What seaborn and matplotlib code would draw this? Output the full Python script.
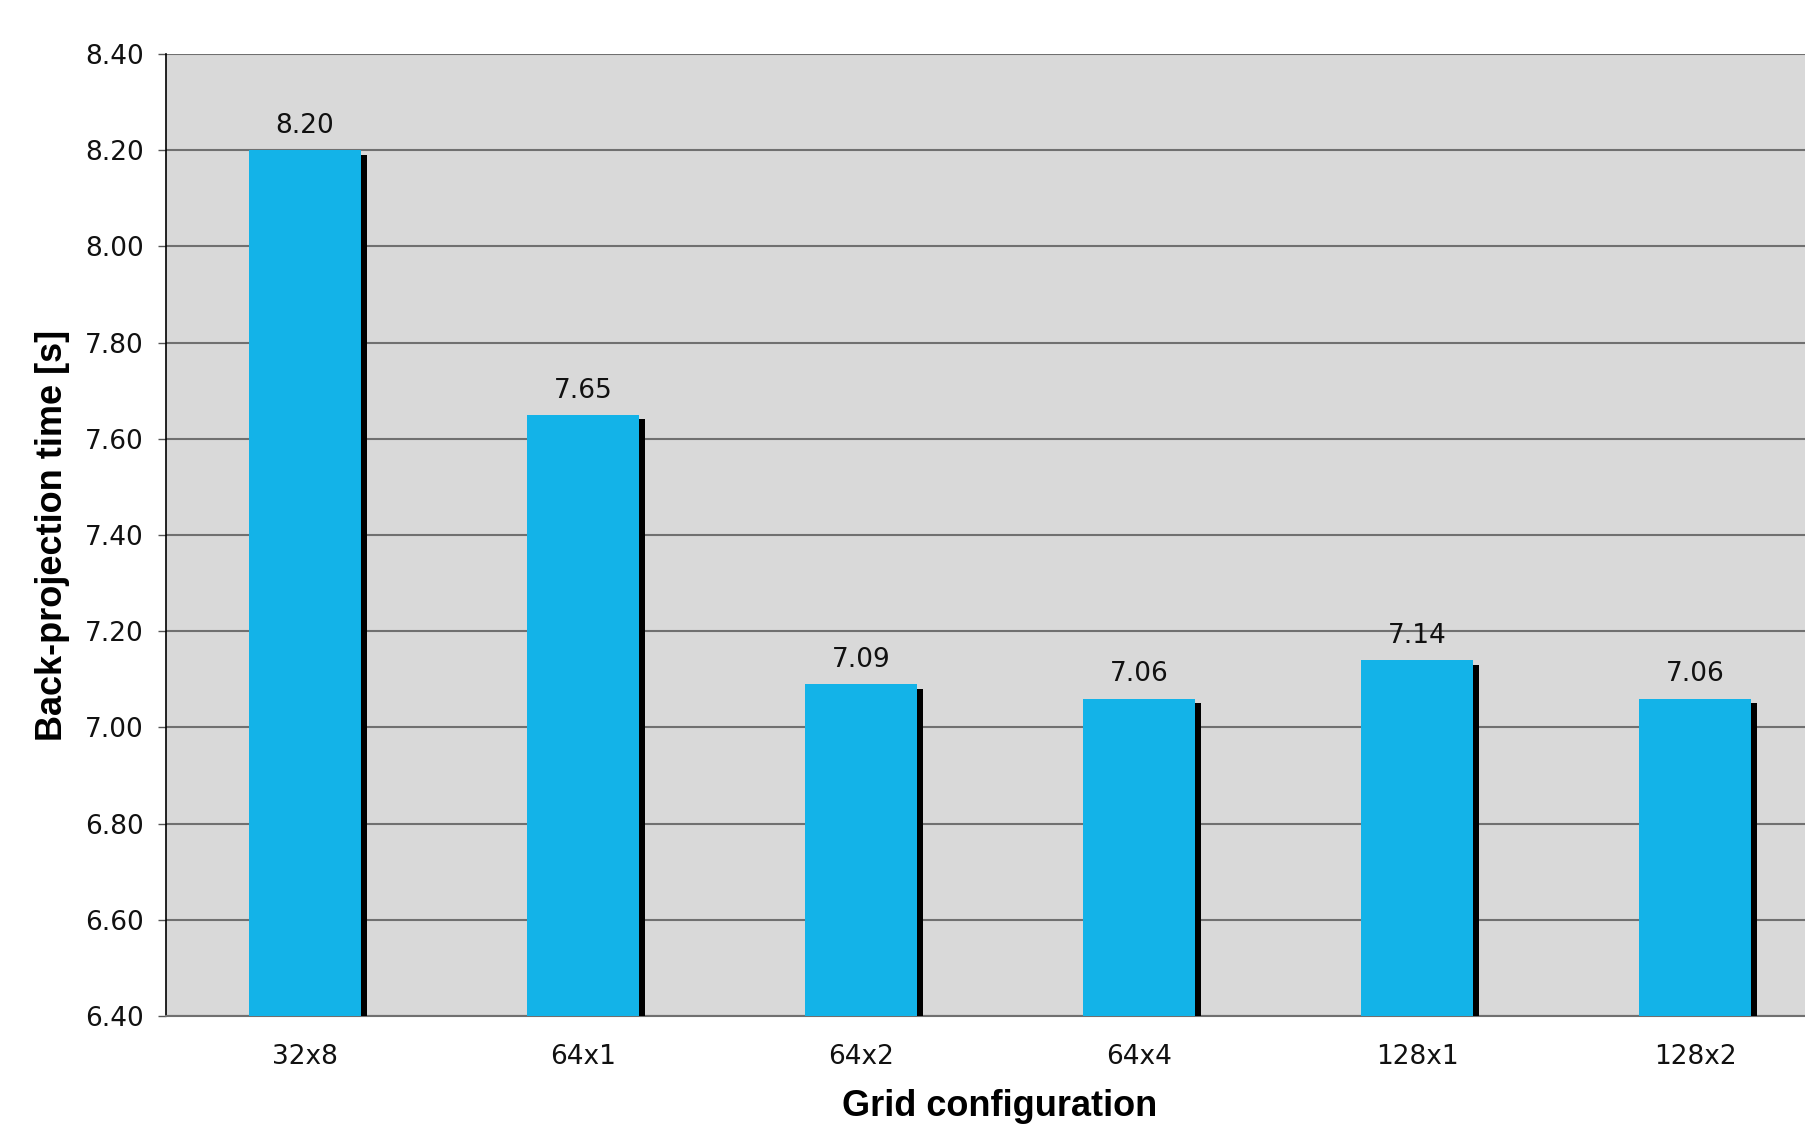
import matplotlib
matplotlib.use("Agg")
import matplotlib.pyplot as plt
import matplotlib.patheffects as pe
from matplotlib.ticker import FormatStrFormatter, FixedLocator
import seaborn as sns
import pandas as pd
import numpy as np

# Back-projection time per CUDA grid configuration
configs = ["32x8", "64x1", "64x2", "64x4", "128x1", "128x2"]
times = [8.20, 7.65, 7.09, 7.06, 7.14, 7.06]
y_ticks = [6.40, 6.60, 6.80, 7.00, 7.20, 7.40, 7.60, 7.80, 8.00, 8.20, 8.40]

df = pd.DataFrame({"config": configs, "time": times})

sns.set_theme(style="white")
plt.rcParams["font.family"] = ["DejaVu Sans"]

fig = plt.figure(figsize=(18.06, 11.24), dpi=100)
ax = fig.add_axes([166 / 1806, 108 / 1124, 1668 / 1806, 962 / 1124])
ax.set_facecolor("#d9d9d9")

sns.barplot(data=df, x="config", y="time", color="#13b3e8", saturation=1,
            width=0.4, ax=ax, zorder=3)

shadow = [pe.SimplePatchShadow(offset=(4.3, -3.2), shadow_rgbFace="black", alpha=1.0),
          pe.Normal()]
for bar in ax.patches:
    bar.set_path_effects(shadow)
    bar.set_edgecolor("none")

ax.bar_label(ax.containers[0], fmt="%.2f", padding=8, fontsize=19, color="#111111",
             zorder=5)

ax.set_ylim(6.40, 8.40)
ax.set_xlim(-0.5, len(configs) - 0.5)
ax.yaxis.set_major_locator(FixedLocator(y_ticks))
ax.yaxis.set_major_formatter(FormatStrFormatter("%.2f"))
ax.yaxis.grid(True, color="#707070", linewidth=1.5, zorder=1)
ax.set_axisbelow(True)

# Category labels sit at bar centres; tick marks sit at category boundaries
ax.set_xticks(np.arange(len(configs)))
ax.set_xticklabels(configs)
ax.set_xticks(np.arange(len(configs) + 1) - 0.5, minor=True)
ax.tick_params(axis="x", which="major", length=0, pad=20, labelsize=19, labelcolor="#111111")
ax.tick_params(axis="x", which="minor", length=6, width=1, color="black", direction="out")
ax.tick_params(axis="y", which="major", length=6, width=1, color="#555555", pad=10,
               labelsize=19, labelcolor="#111111", left=True)

for side in ["top", "right"]:
    ax.spines[side].set_visible(False)
ax.spines["left"].set_color("black")
ax.spines["left"].set_linewidth(1.2)
ax.spines["bottom"].set_color("#707070")
ax.spines["bottom"].set_linewidth(1.5)

label_font = {"family": "Liberation Sans", "weight": "bold", "size": 26}
ax.set_xlabel("Grid configuration", fontdict=label_font, labelpad=14, color="black")
ax.set_ylabel("Back-projection time [s]", fontdict=label_font, labelpad=11, color="black")

fig.savefig("out.png", dpi=100)
